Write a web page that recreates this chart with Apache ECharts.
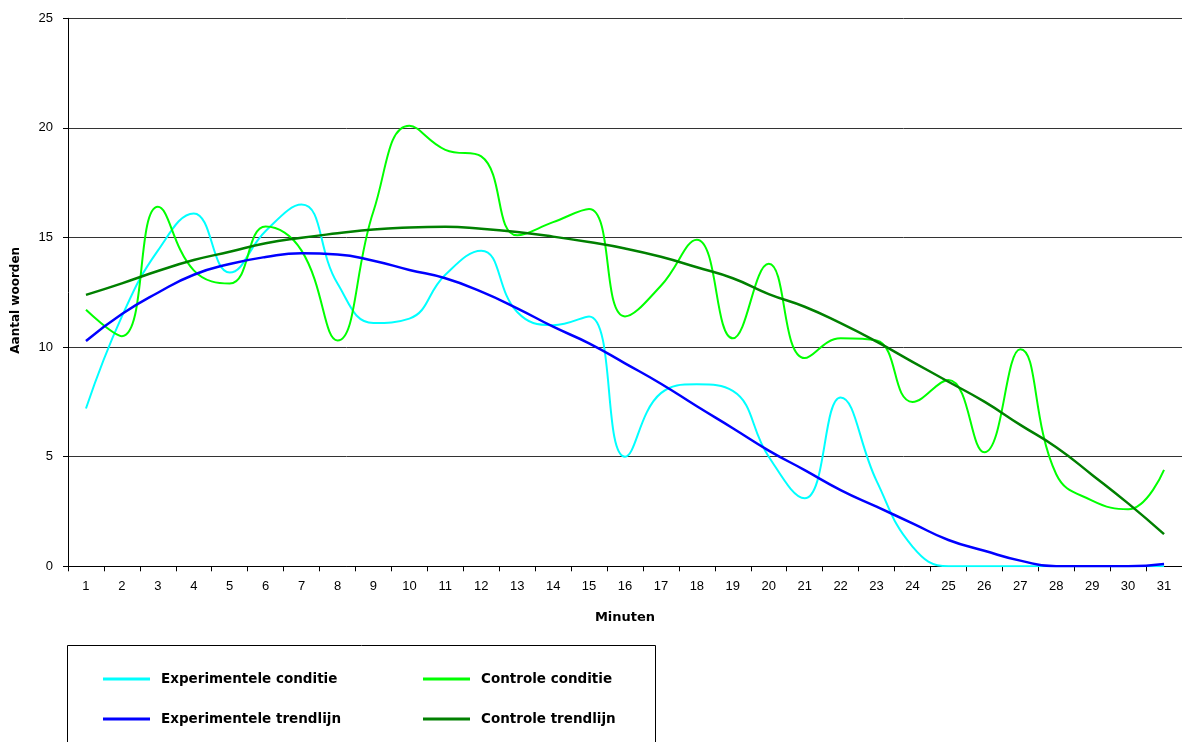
<!DOCTYPE html>
<html>
<head>
<meta charset="utf-8">
<script src="https://cdn.jsdelivr.net/npm/echarts@6/dist/echarts.min.js"></script>
<style>
html,body{margin:0;padding:0;background:#fff;}
#chart{width:1182px;height:742px;}
</style>
</head>
<body>
<div id="chart"></div>
<script>
const minuten = ['1','2','3','4','5','6','7','8','9','10','11','12','13','14','15','16','17','18','19','20','21','22','23','24','25','26','27','28','29','30','31'];
const experimenteleConditie = [7.2,11.4,14.4,16.1,13.4,15.3,16.5,12.9,11.1,11.3,13.3,14.4,11.6,11.0,11.4,5.0,7.9,8.3,8.0,5.0,3.1,7.7,3.9,0.9,0.0,0.0,0.0,0.0,0.0,0.0,0.0];
const controleConditie = [11.7,10.5,16.4,13.5,12.9,15.5,14.4,10.3,16.2,20.1,19.0,18.7,15.1,15.7,16.3,11.4,12.8,14.9,10.4,13.8,9.5,10.4,10.3,7.5,8.5,5.2,9.9,4.2,3.0,2.6,4.4];
const experimenteleTrend = [10.28,11.51,12.48,13.30,13.79,14.11,14.28,14.23,13.94,13.52,13.14,12.53,11.77,10.93,10.17,9.26,8.33,7.30,6.30,5.28,4.39,3.48,2.72,1.96,1.20,0.71,0.26,0.0,0.0,0.0,0.1];
const controleTrend = [12.38,12.91,13.47,13.97,14.35,14.74,14.99,15.19,15.37,15.46,15.49,15.40,15.25,15.04,14.79,14.50,14.12,13.64,13.14,12.42,11.84,11.09,10.25,9.33,8.42,7.51,6.45,5.43,4.17,2.87,1.47];
const yTicks = [0,5,10,15,20,25];

const chart = echarts.init(document.getElementById('chart'), null, {renderer:'canvas'});
const boldFont = 'DejaVu Sans';
const legendText = {fontFamily: boldFont, fontWeight:'bold', fontSize:13.5, color:'#000', padding:[0,0,0,6]};
chart.setOption({
  animation:false,
  backgroundColor:'#fff',
  grid:{left:68, top:18.3, width:1117, height:548, containLabel:false},
  xAxis:{
    type:'category', data:minuten, boundaryGap:true,
    axisLine:{lineStyle:{color:'#000', width:1}},
    axisTick:{show:true, interval:0, length:5, lineStyle:{color:'#000'}},
    axisLabel:{interval:0, margin:14, fontFamily:'Liberation Sans', fontSize:13, color:'#000'},
    name:'Minuten', nameLocation:'middle', nameGap:45,
    nameTextStyle:{fontFamily:boldFont, fontWeight:'bold', fontSize:13, color:'#000'},
    splitLine:{show:false}
  },
  yAxis:{
    type:'value', min:yTicks[0], max:yTicks[yTicks.length-1], interval:5,
    axisLine:{show:true, lineStyle:{color:'#000', width:1}},
    axisTick:{show:true, length:5, lineStyle:{color:'#000'}},
    axisLabel:{margin:15, fontFamily:'Liberation Sans', fontSize:13, color:'#000'},
    splitLine:{show:true, lineStyle:{color:'#333', width:1}},
    name:'Aantal woorden', nameLocation:'middle', nameGap:46, nameRotate:90,
    nameTextStyle:{fontFamily:boldFont, fontWeight:'bold', fontSize:12, color:'#000', padding:[0,16,0,0]}
  },
  legend:[
    {orient:'vertical', left:103, top:672, padding:0, itemWidth:47, itemHeight:3, itemGap:26, icon:'rect',
     data:['Experimentele conditie','Experimentele trendlijn'], textStyle:legendText, selectedMode:false},
    {orient:'vertical', left:423, top:672, padding:0, itemWidth:47, itemHeight:3, itemGap:26, icon:'rect',
     data:['Controle conditie','Controle trendlijn'], textStyle:legendText, selectedMode:false}
  ],
  graphic:[
    {type:'rect', shape:{x:67.5, y:645.5, width:588, height:120}, style:{fill:'none', stroke:'#000', lineWidth:1}, silent:true}
  ],
  series:[
    {name:'Experimentele conditie', type:'line', data:experimenteleConditie, smooth:0.45, symbol:'none',
     lineStyle:{color:'#00FFFF', width:2}, itemStyle:{color:'#00FFFF'}, z:3},
    {name:'Controle conditie', type:'line', data:controleConditie, smooth:0.45, symbol:'none',
     lineStyle:{color:'#00FF00', width:2}, itemStyle:{color:'#00FF00'}, z:4},
    {name:'Experimentele trendlijn', type:'line', data:experimenteleTrend, smooth:true, symbol:'none',
     lineStyle:{color:'#0000FF', width:2.5}, itemStyle:{color:'#0000FF'}, z:5},
    {name:'Controle trendlijn', type:'line', data:controleTrend, smooth:true, symbol:'none',
     lineStyle:{color:'#008000', width:2.5}, itemStyle:{color:'#008000'}, z:5}
  ]
});
</script>
</body>
</html>
